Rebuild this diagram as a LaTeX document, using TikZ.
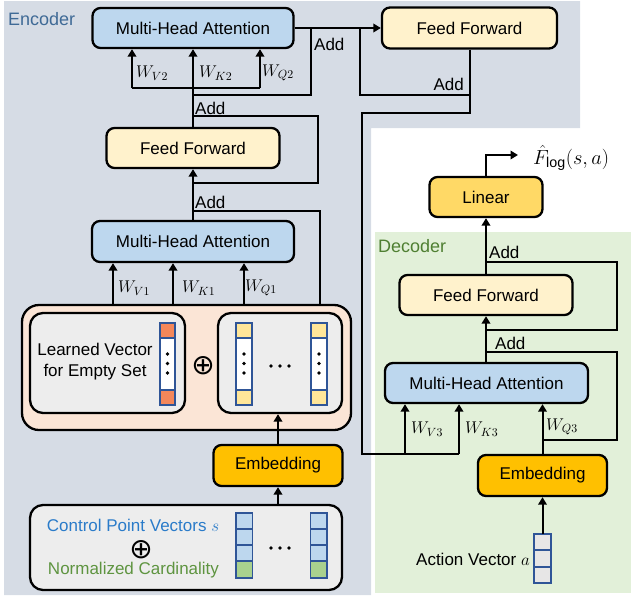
\RequirePackage{fix-cm}
\documentclass[tikz,border=0pt]{standalone}
\usepackage{fontspec}
\setmainfont{Liberation Sans}
\newfontfamily\symfont{DejaVu Sans}
\usetikzlibrary{arrows.meta}
\definecolor{encbg}{HTML}{D6DCE5}
\definecolor{decbg}{HTML}{E2F0D9}
\definecolor{mhafill}{HTML}{BDD7EE}
\definecolor{fffill}{HTML}{FFF2CC}
\definecolor{linfill}{HTML}{FFD966}
\definecolor{embfill}{HTML}{FFC000}
\definecolor{contfill}{HTML}{FBE5D6}
\definecolor{innerfill}{HTML}{EDEDED}
\definecolor{vecblue}{HTML}{2F5597}
\definecolor{orcell}{HTML}{F4875A}
\definecolor{yecell}{HTML}{FFE699}
\definecolor{blcell}{HTML}{BDD7EE}
\definecolor{grcell}{HTML}{A9D18E}
\definecolor{avcell}{HTML}{E7E6E6}
\definecolor{enctext}{HTML}{3F6A96}
\definecolor{dectext}{HTML}{4F7F32}
\definecolor{cptext}{HTML}{2A7BC9}
\definecolor{nctext}{HTML}{5E9440}
\newcommand\myfs{\fontsize{17}{21}\selectfont}
\begin{document}
\begin{tikzpicture}[x=1pt,y=-1pt,font=\myfs,
  box/.style={draw=black, line width=2.3pt, rounded corners=8pt, inner sep=0pt, align=center},
  mha/.style={box, fill=mhafill},
  ffbox/.style={box, fill=fffill},
  linbox/.style={box, fill=linfill},
  embbox/.style={box, fill=embfill},
  contbox/.style={box, fill=contfill, rounded corners=17pt},
  innerbox/.style={box, fill=innerfill, rounded corners=13pt},
  ln/.style={line width=2pt, black},
  arr/.style={ln, -{Triangle[width=8.5pt,length=7.5pt]}},
  vec/.style={draw=vecblue, line width=1.6pt},
  lbl/.style={inner sep=0pt, anchor=west},
  opl/.style={inner sep=0pt, font=\symfont\fontsize{28}{28}\selectfont},
  dotc/.style={fill=black}]
\useasboundingbox (0,0) rectangle (631,597);
% backgrounds
\fill[encbg] (4,1) -- (580,1) -- (580,128) -- (371,128) -- (371,595) -- (4,595) -- cycle;
\fill[decbg] (375,232) rectangle (631,593);
\node[lbl, text=enctext, font=\fontsize{18}{21}\selectfont] (enclabel) at (8,19) {Encoder};
\node[lbl, text=dectext, font=\fontsize{18}{21}\selectfont] (declabel) at (378,246) {Decoder};

% encoder nodes
\node[mha, minimum width=201pt, minimum height=40pt] (mha2) at (193,28) {Multi-Head Attention};
\node[ffbox, minimum width=175pt, minimum height=41pt] (ff2) at (469.5,28) {Feed Forward};
\node[ffbox, minimum width=173pt, minimum height=40pt] (ff1) at (193,148) {Feed Forward};
\node[mha, minimum width=202pt, minimum height=41pt] (mha1) at (193,241.5) {Multi-Head Attention};
\node[contbox, minimum width=329pt, minimum height=125pt] (cont) at (186.5,367.5) {};
\node[innerbox, minimum width=155pt, minimum height=100pt] (lbox) at (107.5,363) {};
\node[innerbox, minimum width=124pt, minimum height=100pt] (rbox) at (280,363) {};
\node[embbox, minimum width=129pt, minimum height=41pt] (emb1) at (278,465.5) {Embedding};
\node[innerbox, minimum width=312pt, minimum height=85pt] (bbox) at (186,547.5) {};

% decoder nodes
\node[linbox, minimum width=113pt, minimum height=40pt] (lin) at (486,197) {Linear};
\node[ffbox, minimum width=173pt, minimum height=40pt] (ff3) at (486,295) {Feed Forward};
\node[mha, minimum width=203pt, minimum height=40pt] (mha3) at (486.5,383) {Multi-Head Attention};
\node[embbox, minimum width=129pt, minimum height=41pt] (emb3) at (542.5,475.5) {Embedding};

% contents of learned vector box
\node[inner sep=0pt, align=center] (lvtext) at (95,362) {Learned Vector\\for Empty Set};
\draw[vec, fill=orcell] (160,323) rectangle (175,338);
\draw[vec, fill=white] (160,338) rectangle (175,390);
\draw[vec, fill=orcell] (160,390) rectangle (175,405);
\foreach \yy in {354,363.5,373} \fill[dotc] (167.5,\yy) circle (1.8pt);
\node[opl] (oplus1) at (203,366) {⊕};
\foreach \xx in {236,311} {
  \draw[vec, fill=yecell] (\xx,323) rectangle ++(16,15);
  \draw[vec, fill=white] (\xx,338) rectangle ++(16,52);
  \draw[vec, fill=yecell] (\xx,390) rectangle ++(16,15);
  \foreach \yy in {354,363.5,373} \fill[dotc] (\xx+8,\yy) circle (1.8pt);
}
\foreach \xx in {271,280,289} \fill[dotc] (\xx,366) circle (1.8pt);

% contents of bottom box
\node[inner sep=0pt, text=cptext] (cptxt) at (133,525) {Control Point Vectors $s$};
\node[opl] (oplus2) at (141,550) {⊕};
\node[inner sep=0pt, text=nctext] (nctxt) at (133.5,570) {Normalized Cardinality};
\foreach \xx in {236,310.5} {
  \draw[vec, fill=blcell] (\xx,513) rectangle ++(16.5,16);
  \draw[vec, fill=blcell] (\xx,529) rectangle ++(16.5,16);
  \draw[vec, fill=blcell] (\xx,545) rectangle ++(16.5,16);
  \draw[vec, fill=grcell] (\xx,561) rectangle ++(16.5,17);
}
\foreach \xx in {271,280,289} \fill[dotc] (\xx,548) circle (1.8pt);

% action vector
\draw[vec, fill=avcell] (534,534) rectangle (551,550);
\draw[vec, fill=avcell] (534,550) rectangle (551,567);
\draw[vec, fill=avcell] (534,567) rectangle (551,583);
\node[inner sep=0pt, anchor=east] (avtext) at (530,559) {Action Vector $a$};
\coordinate (avtop) at (542.5,534);

% ---------- encoder connectors ----------
\coordinate (sp2) at (193,88);
\coordinate (v2) at (132,88);
\coordinate (q2) at (260,88);
\draw[ln] (ff1.north) -- (sp2);
\draw[ln] (v2) -- (q2);
\draw[arr] (v2) -- (v2 |- mha2.south);
\draw[arr] (sp2) -- (mha2.south);
\draw[arr] (q2) -- (q2 |- mha2.south);
\node[lbl] (wv2) at (136,73) {$W_{V2}$};
\node[lbl] (wk2) at (199,73) {$W_{K2}$};
\node[lbl] (wq2) at (262,73) {$W_{Q2}$};

\coordinate (r2s) at (193,95);
\coordinate (r2e) at (311,28);
\draw[ln] (r2s) -| (r2e);
\node[lbl] (add3) at (314,44) {Add};
\draw[arr] (mha2.east) -- (ff2.west);

\coordinate (r3s) at (360,28);
\coordinate (r3e) at (469.5,95);
\draw[ln] (r3s) |- (r3e);
\node[lbl, anchor=east] (add4) at (464,84) {Add};

\coordinate (d1) at (469.5,113);
\coordinate (d2) at (362,454);
\coordinate (k3) at (459,454);
\coordinate (v3) at (405,454);
\draw[ln] (ff2.south) -- (d1) -| (d2) -- (k3);
\draw[arr] (v3) -- (v3 |- mha3.south);
\draw[arr] (k3) -- (k3 |- mha3.south);
\node[lbl] (wv3) at (411,429) {$W_{V3}$};
\node[lbl] (wk3) at (465,429) {$W_{K3}$};

\coordinate (r1s) at (193,183);
\coordinate (r1c) at (318,183);
\coordinate (r1e) at (193,116);
\draw[ln] (r1s) -- (r1c) |- (r1e);
\node[lbl] (add2) at (195,108) {Add};
\draw[arr] (mha1.north) -- (ff1.south);

\coordinate (r0s) at (320,305);
\coordinate (r0e) at (193,211);
\draw[ln] (r0s) |- (r0e);
\node[lbl] (add1) at (195,202) {Add};

\coordinate (i1) at (113,305);
\coordinate (i2) at (173,305);
\coordinate (i3) at (244,305);
\draw[arr] (i1) -- (i1 |- mha1.south);
\draw[arr] (i2) -- (i2 |- mha1.south);
\draw[arr] (i3) -- (i3 |- mha1.south);
\node[lbl] (wv1) at (118,288) {$W_{V1}$};
\node[lbl] (wk1) at (182,288) {$W_{K1}$};
\node[lbl] (wq1) at (245,288) {$W_{Q1}$};

\draw[arr] (emb1.north) -- (emb1.north |- rbox.south);
\draw[arr] (emb1.south |- bbox.north) -- (emb1.south);

% ---------- decoder connectors ----------
\draw[arr] (avtop) -- (emb3.south);
\draw[arr] (emb3.north) -- (emb3.north |- mha3.south);
\node[lbl] (wq3) at (546,427) {$W_{Q3}$};

\coordinate (rq) at (542.5,440);
\coordinate (rqc) at (617,440);
\coordinate (ra2) at (486,352);
\draw[ln] (rq) -- (rqc) |- (ra2);
\node[lbl] (add5) at (495,343) {Add};
\draw[arr] (ff3.south |- mha3.north) -- (ff3.south);

\coordinate (rf1) at (486,330);
\coordinate (rfc) at (617,330);
\coordinate (rf2) at (486,262);
\draw[ln] (rf1) -- (rfc) |- (rf2);
\node[lbl] (add6) at (489,252) {Add};
\draw[arr] (ff3.north) -- (lin.south);

\coordinate (outp) at (518,155);
\draw[arr] (lin.north) |- (outp);
\node[lbl, scale=1.2] (outlbl) at (533,158) {$\hat{F}_{\log}(s,a)$};
\end{tikzpicture}
\end{document}
